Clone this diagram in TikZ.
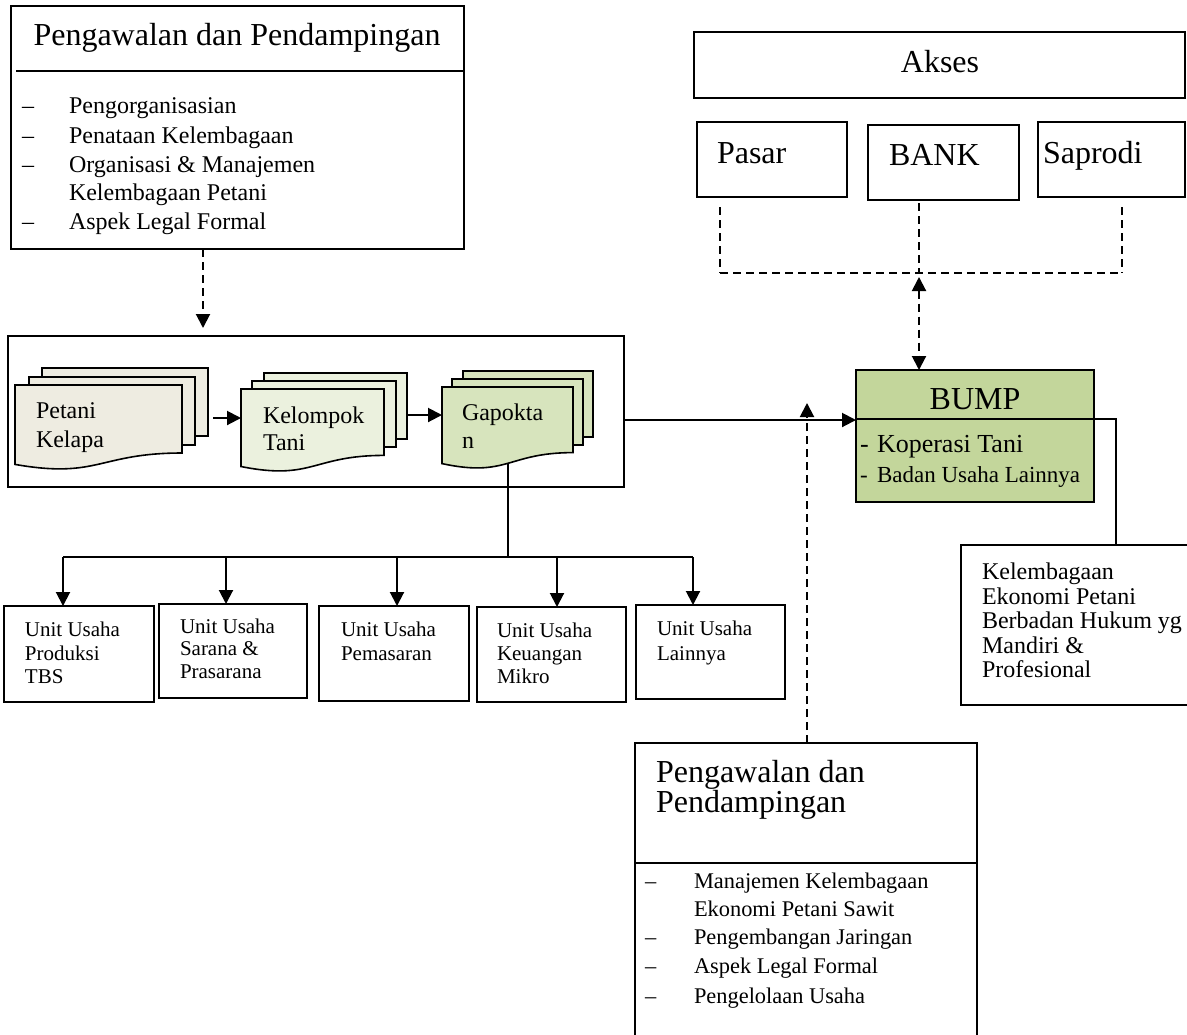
\documentclass[tikz,border=0pt]{standalone}
\usepackage{fontspec}
\setmainfont{Liberation Serif}
\usetikzlibrary{arrows.meta,fit}
\definecolor{docA}{HTML}{EEECE1}
\definecolor{docB}{HTML}{EBF1DE}
\definecolor{docC}{HTML}{D7E4BD}
\definecolor{bumpc}{HTML}{C3D69B}
\newcommand\myfs[1]{\fontsize{#1}{#1}\selectfont}
\newcommand\docshape[6]{%
  \node[inner sep=0pt, outer sep=0pt, fit={(#2,#3) ({#4},{#3+#5})}] (#1) {};
  \filldraw[boxline, fill=#6] (#2,#3) -- (#4,#3) -- ({#4},{#3+0.8*#5})
    .. controls ({(#2+#4)/2},{#3+0.8*#5}) and ({(#2+#4)/2},{#3+1.107*#5}) .. ({#2},{#3+0.934*#5}) -- cycle;
}
\tikzset{
  boxline/.style={draw, line width=0.8pt},
  pbox/.style={boxline, inner sep=0pt, outer sep=0pt, fit={#1}},
  lbl/.style={anchor=base west, inner sep=0pt, outer sep=0pt},
  clbl/.style={anchor=base, inner sep=0pt, outer sep=0pt},
  conn/.style={line width=1pt},
  thinconn/.style={line width=0.6pt},
  arr/.style={conn, -{Triangle[width=7pt,length=7pt]}},
  dline/.style={line width=0.7pt, dash pattern=on 4pt off 2.5pt},
  darr/.style={line width=1pt, dash pattern=on 4pt off 2.5pt, -{Triangle[width=7pt,length=7pt]}},
  ddarr/.style={line width=1pt, dash pattern=on 4pt off 2.5pt, {Triangle[width=7pt,length=7pt]}-{Triangle[width=7pt,length=7pt]}}
}
\begin{document}
\begin{tikzpicture}[x=0.5pt,y=-0.5pt]
\useasboundingbox (0,0) rectangle (1187,1034);
\clip (0,0) rectangle (1187,1034);

% ---------- top-left box ----------
\node[pbox={(11,6) (464,249)}] (pp1) {};
\draw[boxline] (16,71) -- (464,71);
\node[clbl, font=\myfs{16}] (pp1t) at (237,45) {Pengawalan dan Pendampingan};
\begin{scope}[every node/.style={lbl, font=\myfs{12}}]
\node (pp1d1) at (22,113) {–};
\node (pp1i1) at (69,113) {Pengorganisasian};
\node (pp1d2) at (22,143) {–};
\node (pp1i2) at (69,143) {Penataan Kelembagaan};
\node (pp1d3) at (22,172) {–};
\node (pp1i3) at (69,172) {Organisasi \& Manajemen};
\node (pp1i3b) at (69,200) {Kelembagaan Petani};
\node (pp1d4) at (22,229) {–};
\node (pp1i4) at (69,229) {Aspek Legal Formal};
\end{scope}

% ---------- middle group ----------
\node[pbox={(8,336) (624,487)}] (grp) {};
\coordinate (c1) at (203,0);
\draw[darr] (pp1.south -| c1) -- ([yshift=4pt]grp.north -| c1);

% Petani stack
\node[pbox={(42,368) (208,436)}, fill=docA] (petC) {};
\node[pbox={(29,377) (195,445)}, fill=docA] (petB) {};
\docshape{petA}{15}{385}{182}{85}{docA}
\node[lbl, font=\myfs{12}] (pett1) at (36,418) {Petani};
\node[lbl, font=\myfs{12}] (pett2) at (36,447) {Kelapa};

% Kelompok stack
\node[pbox={(264,373) (407,439)}, fill=docB] (kelC) {};
\node[pbox={(252,381) (396,447)}, fill=docB] (kelB) {};
\docshape{kelA}{241}{389}{384}{83}{docB}
\node[lbl, font=\myfs{12}] (kelt1) at (263,423) {Kelompok};
\node[lbl, font=\myfs{12}] (kelt2) at (263,450) {Tani};

% Gapoktan stack
\node[pbox={(463,371) (593,437)}, fill=docC] (gapC) {};
\node[pbox={(452,379) (583,445)}, fill=docC] (gapB) {};
\docshape{gapA}{442}{387}{573}{82}{docC}
\node[lbl, font=\myfs{12}] (gapt1) at (462,420) {Gapokta};
\node[lbl, font=\myfs{12}] (gapt2) at (462,448) {n};

\coordinate (ya) at (0,418);
\coordinate (yb) at (0,415);
\draw[arr, shorten <=2.5pt] (petC.east |- ya) -- (kelA.west |- ya);
\draw[arr] (kelC.east |- yb) -- (gapA.west |- yb);

% ---------- unit boxes ----------
\node[pbox={(4,606) (154,702)}] (u1) {};
\node[pbox={(159,604) (307,698)}] (u2) {};
\node[pbox={(319,606) (469,701)}] (u3) {};
\node[pbox={(477,607) (626,702)}] (u4) {};
\node[pbox={(636,605) (785,699)}] (u5) {};
\begin{scope}[every node/.style={lbl, font=\myfs{10.5}}]
\node (u1a) at (25,636) {Unit Usaha};
\node (u1b) at (25,660) {Produksi};
\node (u1c) at (25,683) {TBS};
\node (u2a) at (180,633) {Unit Usaha};
\node (u2b) at (180,655) {Sarana \&};
\node (u2c) at (180,678) {Prasarana};
\node (u3a) at (341,636) {Unit Usaha};
\node (u3b) at (341,660) {Pemasaran};
\node (u4a) at (497,637) {Unit Usaha};
\node (u4b) at (497,660) {Keuangan};
\node (u4c) at (497,683) {Mikro};
\node (u5a) at (657,635) {Unit Usaha};
\node (u5b) at (657,660) {Lainnya};
\end{scope}

\coordinate (gapb) at (508,463);
\coordinate (bus) at (508,557);
\coordinate (b1) at (63,557);
\coordinate (b2) at (226,557);
\coordinate (b3) at (397,557);
\coordinate (b4) at (557,557);
\coordinate (b5) at (693,557);
\draw[conn] (gapb) -- (bus);
\draw[conn] (b1) -- (b5);
\draw[arr] (b1) -- (u1.north -| b1);
\draw[arr] (b2) -- (u2.north -| b2);
\draw[arr] (b3) -- (u3.north -| b3);
\draw[arr] (b4) -- (u4.north -| b4);
\draw[arr] (b5) -- (u5.north -| b5);

% ---------- Akses ----------
\node[pbox={(694,32) (1185,98)}] (akses) {};
\node[clbl, font=\myfs{16}] (aksest) at (940,72) {Akses};
\node[pbox={(697,122) (847,197)}] (pasar) {};
\node[pbox={(868,125) (1019,200)}] (bank) {};
\node[pbox={(1038,122) (1185,197)}] (saprodi) {};
\node[lbl, font=\myfs{16}] (pasart) at (717,163) {Pasar};
\node[lbl, font=\myfs{16}] (bankt) at (889,165) {BANK};
\node[lbl, font=\myfs{16}] (saprodit) at (1043,163) {Saprodi};

\coordinate (d1) at (720,273);
\coordinate (d2) at (919,273);
\coordinate (d3) at (1122,273);
\draw[dline, shorten <=5pt] (pasar.south -| d1) -- (d1);
\draw[dline, shorten <=1.5pt] (bank.south -| d2) -- (d2);
\draw[dline, shorten <=5pt] (saprodi.south -| d3) -- (d3);
\draw[dline] (d1) -- (d3);

% ---------- BUMP ----------
\node[pbox={(856,370) (1094,502)}, fill=bumpc] (bump) {};
\coordinate (yD) at (0,419);
\draw[boxline] (bump.west |- yD) -- (bump.east |- yD);
\node[clbl, font=\myfs{16}] (bumpt) at (975,409) {BUMP};
\node[lbl, font=\myfs{13}] (bumpd1) at (860,452) {-};
\node[lbl, font=\myfs{13}] (bumpi1) at (877,452) {Koperasi Tani};
\node[lbl, font=\myfs{11.5}] (bumpd2) at (860,482) {-};
\node[lbl, font=\myfs{11.5}] (bumpi2) at (877,482) {Badan Usaha Lainnya};

\draw[ddarr, shorten <=2pt] (d2) -- (bump.north -| d2);

\coordinate (y3) at (0,420);
\draw[arr] (grp.east |- y3) -- (bump.west |- y3);

% ---------- Kelembagaan ----------
\node[pbox={(961,545) (1195,705)}] (kel) {};
\begin{scope}[every node/.style={lbl, font=\myfs{12}}]
\node (kelk1) at (982,579) {Kelembagaan};
\node (kelk2) at (982,604) {Ekonomi Petani};
\node (kelk3) at (982,628) {Berbadan Hukum yg};
\node (kelk4) at (982,653) {Mandiri \&};
\node (kelk5) at (982,677) {Profesional};
\end{scope}
\coordinate (k1) at (1116,419);
\draw[thinconn] (bump.east |- yD) -- (k1) -- (kel.north -| k1);

% ---------- bottom box ----------
\node[pbox={(635,743) (977,1050)}] (pp2) {};
\draw[boxline] (635,863) -- (977,863);
\node[lbl, font=\myfs{16}] (pp2t1) at (656,782) {Pengawalan dan};
\node[lbl, font=\myfs{16}] (pp2t2) at (656,812) {Pendampingan};
\begin{scope}[every node/.style={lbl, font=\myfs{11.2}}]
\node (pp2d1) at (645,888) {–};
\node (pp2i1) at (694,888) {Manajemen Kelembagaan};
\node (pp2i1b) at (694,916) {Ekonomi Petani Sawit};
\node (pp2d2) at (645,944) {–};
\node (pp2i2) at (694,944) {Pengembangan Jaringan};
\node (pp2d3) at (645,973) {–};
\node (pp2i3) at (694,973) {Aspek Legal Formal};
\node (pp2d4) at (645,1003) {–};
\node (pp2i4) at (694,1003) {Pengelolaan Usaha};
\end{scope}
\coordinate (e1) at (807,0);
\coordinate (e2) at (807,403);
\draw[darr] (pp2.north -| e1) -- (e2);
\end{tikzpicture}
\end{document}
